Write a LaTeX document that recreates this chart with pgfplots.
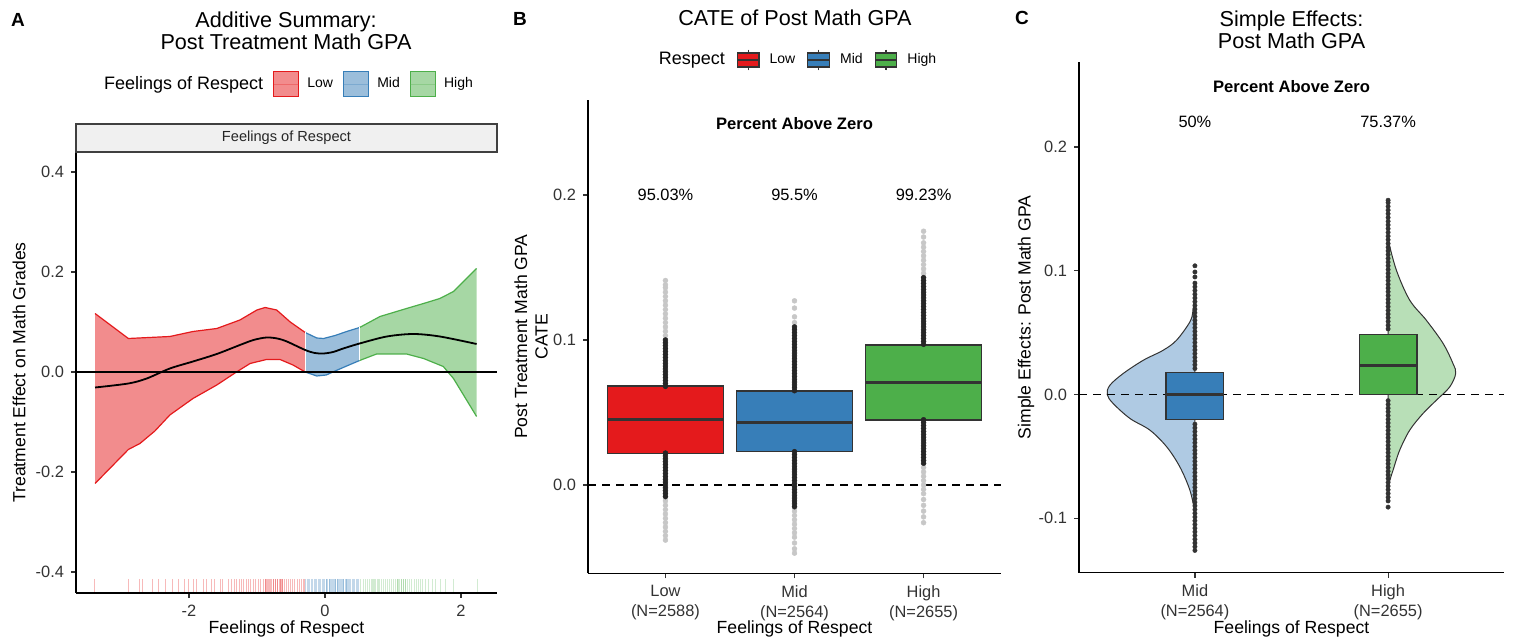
\documentclass[border=0pt]{standalone}
\usepackage{pgfplots}
\pgfplotsset{compat=1.18}
\usepackage{fontspec}
\setmainfont{Liberation Sans}
\definecolor{cRed}{HTML}{E41A1C}
\definecolor{cBlue}{HTML}{377EB8}
\definecolor{cGreen}{HTML}{4DAF4A}
\definecolor{cRedF}{HTML}{F28C8D}
\definecolor{cBlueF}{HTML}{9BBEDB}
\definecolor{cGreenF}{HTML}{A6D7A4}
\definecolor{cBlueV}{HTML}{AFCAE3}
\definecolor{cGreenV}{HTML}{B8DFB7}
\definecolor{dk}{HTML}{333333}
\newcommand{\tickfont}{\fontsize{8.2}{10}\selectfont}
\newcommand{\labfont}{\fontsize{8.8}{10.2}\selectfont}
\newcommand{\titfont}{\fontsize{10.8}{11.2}\selectfont}
\pgfplotsset{
  gg/.style={scale only axis, axis lines*=left,
    axis line style={-, line width=0.6pt, black},
    tick align=outside, major tick length=2.5pt,
    tick style={line width=0.6pt, black!80},
    ticklabel style={font=\tickfont, text=black!80},
    label style={font=\labfont},
    clip=false,
  },
  akey/.style={legend image code/.code={
     \draw[##1, line width=0.6pt] (0pt,-6.25pt) rectangle (12.5pt,6.25pt);
     \draw[##1, draw opacity=0.3, line width=0.5pt] (0pt,0pt) -- (12.5pt,0pt);}},
  bkey/.style={legend image code/.code={
     \draw[##1, line width=0.6pt] (0pt,-3.5pt) rectangle (10.8pt,3.5pt);
     \draw[dk, line width=0.6pt] (5.4pt,3.5pt)--(5.4pt,5.2pt) (5.4pt,-3.5pt)--(5.4pt,-5.2pt) (0pt,0pt)--(10.8pt,0pt);}},
  densept/.style={forget plot, only marks, mark=*, mark size=1.25pt, mark options={draw=black!85, fill=black!85, line width=0.2pt}},
  sparsept/.style={forget plot, only marks, mark=*, mark size=1.25pt, mark options={draw=black!22, fill=black!22, line width=0.2pt}},
  cpt/.style={forget plot, only marks, mark=*, mark size=1.1pt, mark options={draw=dk, fill=dk, line width=0.2pt}},
  boxst/.style={forget plot, draw=dk, line width=0.6pt},
  medst/.style={forget plot, draw=dk, line width=1.5pt},
}
\begin{document}
\begin{tikzpicture}
\path[use as bounding box] (0,0) rectangle (757.5pt,321pt);
% ---------------- Panel A ----------------
\begin{axis}[gg, at={(38pt,24.5pt)}, anchor=south west, width=210.5pt, height=220.5pt,
  xmin=-3.66, xmax=2.53, ymin=-0.442, ymax=0.44,
  xtick={-2,0,2}, xticklabels={-2,0,2},
  ytick={-0.4,-0.2,0,0.2,0.4}, yticklabels={-0.4,-0.2,0.0,0.2,0.4},
  xlabel={Feelings of Respect}, ylabel={Treatment Effect on Math Grades},
  xlabel style={at={(axis description cs:0.5,0)}, anchor=center, yshift=-18pt},
  ylabel style={at={(axis description cs:-0.1354,0.5)}, anchor=center},
  legend columns=-1,
  legend style={at={(0.5,1.154)}, anchor=center, draw=none, fill=none,
     font=\fontsize{7}{8}\selectfont,
     /tikz/every odd column/.append style={column sep=2pt},
     /tikz/every even column/.append style={column sep=3pt}},
]
% bands
\addplot[forget plot, fill=cRedF, draw=none] coordinates {
 (-3.38,0.117) (-2.89,0.067) (-2.28,0.071) (-1.94,0.081) (-1.59,0.087) (-1.25,0.104) (-1.0,0.124) (-0.88,0.129) (-0.71,0.124) (-0.51,0.100) (-0.29,0.079)
 (-0.29,0.0) (-0.47,0.014) (-0.66,0.025) (-0.86,0.025) (-1.10,0.017) (-1.30,0.0) (-1.59,-0.026) (-1.94,-0.053) (-2.28,-0.086) (-2.50,-0.118) (-2.72,-0.143) (-2.89,-0.155) (-3.38,-0.223)} -- cycle;
\addplot[forget plot, cRed, line width=0.6pt] coordinates {
 (-3.38,0.117) (-2.89,0.067) (-2.28,0.071) (-1.94,0.081) (-1.59,0.087) (-1.25,0.104) (-1.0,0.124) (-0.88,0.129) (-0.71,0.124) (-0.51,0.100) (-0.29,0.079)};
\addplot[forget plot, cRed, line width=0.6pt] coordinates {
 (-3.38,-0.223) (-2.89,-0.155) (-2.72,-0.143) (-2.50,-0.118) (-2.28,-0.086) (-1.94,-0.053) (-1.59,-0.026) (-1.30,0.0) (-1.10,0.017) (-0.86,0.025) (-0.66,0.025) (-0.47,0.014) (-0.29,0.0)};
\addplot[forget plot, fill=cBlueF, draw=none] coordinates {
 (-0.29,0.079) (-0.12,0.068) (-0.02,0.067) (0.15,0.073) (0.32,0.081) (0.51,0.089)
 (0.51,0.023) (0.32,0.012) (0.15,0.002) (0.02,-0.006) (-0.12,-0.008) (-0.29,0.0)} -- cycle;
\addplot[forget plot, cBlue, line width=0.6pt] coordinates {
 (-0.29,0.079) (-0.12,0.068) (-0.02,0.067) (0.15,0.073) (0.32,0.081) (0.51,0.089)};
\addplot[forget plot, cBlue, line width=0.6pt] coordinates {
 (-0.29,0.0) (-0.12,-0.008) (0.02,-0.006) (0.15,0.002) (0.32,0.012) (0.51,0.023)};
\addplot[forget plot, fill=cGreenF, draw=none] coordinates {
 (0.51,0.089) (0.81,0.111) (1.2,0.127) (1.45,0.137) (1.69,0.147) (1.89,0.161) (2.23,0.207)
 (2.23,-0.089) (1.89,-0.013) (1.74,0.011) (1.45,0.027) (1.2,0.036) (0.76,0.036) (0.51,0.023)} -- cycle;
\addplot[forget plot, cGreen, line width=0.6pt] coordinates {
 (0.51,0.089) (0.81,0.111) (1.2,0.127) (1.45,0.137) (1.69,0.147) (1.89,0.161) (2.23,0.207)};
\addplot[forget plot, cGreen, line width=0.6pt] coordinates {
 (0.51,0.023) (0.76,0.036) (1.2,0.036) (1.45,0.027) (1.74,0.011) (1.89,-0.013) (2.23,-0.089)};
\addplot[forget plot, white, line width=0.7pt] coordinates {(-0.29,0.0) (-0.29,0.079)};
\addplot[forget plot, white, line width=0.7pt] coordinates {(0.51,0.023) (0.51,0.089)};
% zero line
\addplot[forget plot, black, line width=0.6pt] coordinates {(-3.66,0) (2.53,0)};
% mean line
\addplot[forget plot, black, line width=0.9pt, smooth, tension=0.5] coordinates {
 (-3.38,-0.031) (-2.89,-0.023) (-2.62,-0.013) (-2.28,0.007) (-1.94,0.021) (-1.59,0.036) (-1.25,0.054) (-1.05,0.064) (-0.86,0.069) (-0.70,0.067) (-0.56,0.061) (-0.29,0.044) (-0.15,0.038) (-0.02,0.037) (0.12,0.040) (0.27,0.047) (0.51,0.057) (0.91,0.071) (1.30,0.076) (1.69,0.071) (2.23,0.056)};
% rugs
\addplot[forget plot, only marks, mark=|, mark size=3.25pt, mark options={draw=cRed, draw opacity=0.3, line width=0.5pt}] coordinates {
 (-3.39,-0.427) (-2.89,-0.427) (-2.73,-0.427) (-2.68,-0.427) (-2.53,-0.427) (-2.44,-0.427) (-2.34,-0.427) (-2.24,-0.427) (-2.16,-0.427) (-2.07,-0.427) (-2.01,-0.427) (-1.93,-0.427) (-1.89,-0.427) (-1.79,-0.427) (-1.74,-0.427) (-1.67,-0.427) (-1.62,-0.427) (-1.54,-0.427) (-1.50,-0.427) (-1.42,-0.427) (-1.37,-0.427) (-1.33,-0.427) (-1.30,-0.427) (-1.26,-0.427) (-1.22,-0.427) (-1.19,-0.427) (-1.15,-0.427) (-1.12,-0.427) (-1.09,-0.427) (-1.05,-0.427) (-1.02,-0.427) (-0.98,-0.427) (-0.95,-0.427) (-0.91,-0.427) (-0.88,-0.427) (-0.87,-0.427) (-0.86,-0.427) (-0.84,-0.427) (-0.83,-0.427) (-0.81,-0.427) (-0.80,-0.427) (-0.78,-0.427) (-0.76,-0.427) (-0.75,-0.427) (-0.73,-0.427) (-0.72,-0.427) (-0.70,-0.427) (-0.69,-0.427) (-0.67,-0.427) (-0.66,-0.427) (-0.65,-0.427) (-0.64,-0.427) (-0.63,-0.427) (-0.62,-0.427) (-0.59,-0.427) (-0.56,-0.427) (-0.53,-0.427) (-0.50,-0.427) (-0.47,-0.427) (-0.44,-0.427) (-0.41,-0.427) (-0.38,-0.427) (-0.35,-0.427) (-0.32,-0.427) (-0.30,-0.427)};
\addplot[forget plot, only marks, mark=|, mark size=3.25pt, mark options={draw=cBlue, draw opacity=0.3, line width=0.5pt}] coordinates {
 (-0.28,-0.427) (-0.26,-0.427) (-0.24,-0.427) (-0.22,-0.427) (-0.20,-0.427) (-0.18,-0.427) (-0.16,-0.427) (-0.14,-0.427) (-0.12,-0.427) (-0.10,-0.427) (-0.08,-0.427) (-0.06,-0.427) (-0.04,-0.427) (-0.02,-0.427) (0.00,-0.427) (0.02,-0.427) (0.03,-0.427) (0.04,-0.427) (0.06,-0.427) (0.07,-0.427) (0.08,-0.427) (0.10,-0.427) (0.11,-0.427) (0.12,-0.427) (0.14,-0.427) (0.15,-0.427) (0.16,-0.427) (0.18,-0.427) (0.19,-0.427) (0.20,-0.427) (0.22,-0.427) (0.23,-0.427) (0.24,-0.427) (0.26,-0.427) (0.27,-0.427) (0.28,-0.427) (0.30,-0.427) (0.31,-0.427) (0.32,-0.427) (0.33,-0.427) (0.34,-0.427) (0.36,-0.427) (0.38,-0.427) (0.40,-0.427) (0.42,-0.427) (0.44,-0.427) (0.46,-0.427) (0.48,-0.427) (0.50,-0.427)};
\addplot[forget plot, only marks, mark=|, mark size=3.25pt, mark options={draw=cGreen, draw opacity=0.25, line width=0.5pt}] coordinates {
 (0.53,-0.427) (0.56,-0.427) (0.59,-0.427) (0.62,-0.427) (0.65,-0.427) (0.68,-0.427) (0.70,-0.427) (0.71,-0.427) (0.73,-0.427) (0.74,-0.427) (0.77,-0.427) (0.79,-0.427) (0.80,-0.427) (0.83,-0.427) (0.86,-0.427) (0.89,-0.427) (0.92,-0.427) (0.95,-0.427) (0.98,-0.427) (1.01,-0.427) (1.04,-0.427) (1.06,-0.427) (1.07,-0.427) (1.08,-0.427) (1.10,-0.427) (1.12,-0.427) (1.13,-0.427) (1.15,-0.427) (1.16,-0.427) (1.18,-0.427) (1.19,-0.427) (1.22,-0.427) (1.25,-0.427) (1.28,-0.427) (1.31,-0.427) (1.34,-0.427) (1.37,-0.427) (1.40,-0.427) (1.44,-0.427) (1.48,-0.427) (1.53,-0.427) (1.58,-0.427) (1.63,-0.427) (1.70,-0.427) (1.78,-0.427) (1.89,-0.427) (2.24,-0.427)};
% legend
\addlegendimage{empty legend}
\addlegendentry{\fontsize{9}{10}\selectfont Feelings of Respect}
\addlegendimage{akey, draw=cRed, fill=cRedF}
\addlegendentry{Low}
\addlegendimage{akey, draw=cBlue, fill=cBlueF}
\addlegendentry{Mid}
\addlegendimage{akey, draw=cGreen, fill=cGreenF}
\addlegendentry{High}
% strip
\draw[fill=black!6, draw=black!75, line width=0.6pt] (rel axis cs:0,1) rectangle (rel axis cs:1,1.0635);
\node[font=\fontsize{7.3}{8}\selectfont, text=black!85] at (rel axis cs:0.5,1.0317) {Feelings of Respect};
\end{axis}
% ---------------- Panel B ----------------
\begin{axis}[gg, at={(294pt,34.35pt)}, anchor=south west, width=206.5pt, height=236.65pt,
  xmin=0.4, xmax=3.6, ymin=-0.0609, ymax=0.2655,
  xtick={1,2,3}, xticklabels={{Low\\(N=2588)},{Mid\\(N=2564)},{High\\(N=2655)}},
  xticklabel style={align=center},
  ytick={0,0.1,0.2}, yticklabels={0.0,0.1,0.2},
  xlabel={Feelings of Respect}, ylabel={Post Treatment Math GPA\\CATE},
  xlabel style={at={(axis description cs:0.5,0)}, anchor=center, yshift=-27.6pt},
  ylabel style={align=center, at={(axis description cs:-0.138,0.5)}, anchor=center},
  legend columns=-1,
  legend style={at={(0.5,1.0846)}, anchor=center, draw=none, fill=none,
     font=\fontsize{7}{8}\selectfont,
     /tikz/every odd column/.append style={column sep=3pt},
     /tikz/every even column/.append style={column sep=4pt}},
]
% sparse points
\addplot[sparsept] coordinates {
 (1,0.103) (1,0.106) (1,0.109) (1,0.112) (1,0.115) (1,0.118) (1,0.121) (1,0.124) (1,0.127) (1,0.130) (1,0.133) (1,0.136) (1,0.138) (1,0.141)
 (1,-0.011) (1,-0.014) (1,-0.017) (1,-0.020) (1,-0.023) (1,-0.026) (1,-0.029) (1,-0.032) (1,-0.035) (1,-0.038)
 (2,0.112) (2,0.116) (2,0.122) (2,0.127)
 (2,-0.018) (2,-0.021) (2,-0.024) (2,-0.027) (2,-0.030) (2,-0.033) (2,-0.036) (2,-0.040) (2,-0.044) (2,-0.047)
 (3,0.146) (3,0.149) (3,0.152) (3,0.155) (3,0.158) (3,0.161) (3,0.164) (3,0.167) (3,0.171) (3,0.175)
 (3,0.012) (3,0.009) (3,0.006) (3,0.003) (3,0.000) (3,-0.003) (3,-0.006) (3,-0.010) (3,-0.014) (3,-0.018) (3,-0.022) (3,-0.026)};
% dense points
\addplot[densept] coordinates {
 (1,0.068) (1,0.070) (1,0.072) (1,0.074) (1,0.076) (1,0.078) (1,0.080) (1,0.082) (1,0.084) (1,0.086) (1,0.088) (1,0.090) (1,0.092) (1,0.094) (1,0.096) (1,0.098) (1,0.100)
 (1,0.022) (1,0.020) (1,0.018) (1,0.016) (1,0.014) (1,0.012) (1,0.010) (1,0.008) (1,0.006) (1,0.004) (1,0.002) (1,0.000) (1,-0.002) (1,-0.004) (1,-0.006) (1,-0.008)
 (2,0.065) (2,0.067) (2,0.069) (2,0.071) (2,0.073) (2,0.075) (2,0.077) (2,0.079) (2,0.081) (2,0.083) (2,0.085) (2,0.087) (2,0.089) (2,0.091) (2,0.093) (2,0.095) (2,0.097) (2,0.099) (2,0.101) (2,0.103) (2,0.105) (2,0.107) (2,0.109)
 (2,0.023) (2,0.021) (2,0.019) (2,0.017) (2,0.015) (2,0.013) (2,0.011) (2,0.009) (2,0.007) (2,0.005) (2,0.003) (2,0.001) (2,-0.001) (2,-0.003) (2,-0.005) (2,-0.007) (2,-0.009) (2,-0.011) (2,-0.013) (2,-0.015)
 (3,0.097) (3,0.099) (3,0.101) (3,0.103) (3,0.105) (3,0.107) (3,0.109) (3,0.111) (3,0.113) (3,0.115) (3,0.117) (3,0.119) (3,0.121) (3,0.123) (3,0.125) (3,0.127) (3,0.129) (3,0.131) (3,0.133) (3,0.135) (3,0.137) (3,0.139) (3,0.141) (3,0.143)
 (3,0.045) (3,0.043) (3,0.041) (3,0.039) (3,0.037) (3,0.035) (3,0.033) (3,0.031) (3,0.029) (3,0.027) (3,0.025) (3,0.023) (3,0.021) (3,0.019) (3,0.017) (3,0.015)};
\addplot[forget plot, black, line width=0.7pt, dash pattern=on 4pt off 3pt] coordinates {(0.4,0) (3.6,0)};
% boxes
\addplot[boxst, fill=cRed] coordinates {(0.55,0.0219) (1.45,0.0219) (1.45,0.0683) (0.55,0.0683)} -- cycle;
\addplot[medst] coordinates {(0.55,0.0453) (1.45,0.0453)};
\addplot[boxst, fill=cBlue] coordinates {(1.55,0.0230) (2.45,0.0230) (2.45,0.0648) (1.55,0.0648)} -- cycle;
\addplot[medst] coordinates {(1.55,0.0430) (2.45,0.0430)};
\addplot[boxst, fill=cGreen] coordinates {(2.55,0.0448) (3.45,0.0448) (3.45,0.0966) (2.55,0.0966)} -- cycle;
\addplot[medst] coordinates {(2.55,0.0706) (3.45,0.0706)};
% legend
\addlegendimage{empty legend}
\addlegendentry{\fontsize{9}{10}\selectfont Respect}
\addlegendimage{bkey, draw=dk, fill=cRed}
\addlegendentry{Low}
\addlegendimage{bkey, draw=dk, fill=cBlue}
\addlegendentry{Mid}
\addlegendimage{bkey, draw=dk, fill=cGreen}
\addlegendentry{High}
\node[font=\bfseries\fontsize{8.3}{9}\selectfont] at (axis cs:2,0.249) {Percent Above Zero};
\node[font=\fontsize{8.2}{9}\selectfont] at (axis cs:1,0.2) {95.03\%};
\node[font=\fontsize{8.2}{9}\selectfont] at (axis cs:2,0.2) {95.5\%};
\node[font=\fontsize{8.2}{9}\selectfont] at (axis cs:3,0.2) {99.23\%};
\end{axis}
% ---------------- Panel C ----------------
\begin{axis}[gg, at={(539.5pt,34.65pt)}, anchor=south west, width=212.5pt, height=255.35pt,
  xmin=0.4, xmax=2.6, ymin=-0.144, ymax=0.2687,
  xtick={1,2}, xticklabels={{Mid\\(N=2564)},{High\\(N=2655)}},
  xticklabel style={align=center},
  ytick={-0.1,0,0.1,0.2}, yticklabels={-0.1,0.0,0.1,0.2},
  xlabel={Feelings of Respect}, ylabel={Simple Effects: Post Math GPA},
  xlabel style={at={(axis description cs:0.5,0)}, anchor=center, yshift=-28.2pt},
  ylabel style={at={(axis description cs:-0.1247,0.5)}, anchor=center},
]
\addplot[forget plot, fill=cBlueV, draw=dk, line width=0.5pt, smooth, tension=0.55] coordinates {
 (1,0.085) (0.99,0.068) (0.974,0.0587) (0.905,0.0439) (0.836,0.0358) (0.733,0.0277) (0.629,0.017) (0.56,0.0075) (0.546,0) (0.577,-0.0073) (0.664,-0.0194) (0.767,-0.0288) (0.854,-0.0423) (0.922,-0.0585) (0.974,-0.0773) (1,-0.095)} -- cycle;
\addplot[forget plot, fill=cGreenV, draw=dk, line width=0.5pt, smooth, tension=0.55] coordinates {
 (2,0.125) (2.043,0.1004) (2.112,0.0762) (2.198,0.06) (2.285,0.0412) (2.336,0.025) (2.35,0.017) (2.319,0.0061) (2.25,-0.0046) (2.181,-0.0153) (2.112,-0.0288) (2.06,-0.045) (2.026,-0.061) (2.008,-0.070) (2,-0.078)} -- cycle;
\addplot[forget plot, black, line width=0.7pt, dash pattern=on 4pt off 3pt] coordinates {(0.4,0) (2.6,0)};
\addplot[cpt] coordinates {
 (1,-0.126) (1,-0.123) (1,-0.120) (1,-0.117) (1,-0.114) (1,-0.111) (1,-0.108) (1,-0.105) (1,-0.102) (1,-0.099) (1,-0.096) (1,-0.093) (1,-0.090) (1,-0.087) (1,-0.084) (1,-0.081) (1,-0.078) (1,-0.075) (1,-0.072) (1,-0.069) (1,-0.066) (1,-0.063) (1,-0.060) (1,-0.057) (1,-0.054) (1,-0.051) (1,-0.048) (1,-0.045) (1,-0.042) (1,-0.039) (1,-0.036) (1,-0.033) (1,-0.030) (1,-0.027) (1,-0.024)
 (1,0.021) (1,0.024) (1,0.027) (1,0.030) (1,0.033) (1,0.036) (1,0.039) (1,0.042) (1,0.045) (1,0.048) (1,0.051) (1,0.054) (1,0.057) (1,0.060) (1,0.063) (1,0.066) (1,0.069) (1,0.072) (1,0.075) (1,0.078) (1,0.081) (1,0.084) (1,0.087) (1,0.090) (1,0.095) (1,0.099) (1,0.104)
 (2,-0.091) (2,-0.086) (2,-0.083) (2,-0.080) (2,-0.077) (2,-0.074) (2,-0.071) (2,-0.068) (2,-0.065) (2,-0.062) (2,-0.059) (2,-0.056) (2,-0.053) (2,-0.050) (2,-0.047) (2,-0.044) (2,-0.041) (2,-0.038) (2,-0.035) (2,-0.032) (2,-0.029) (2,-0.026) (2,-0.023) (2,-0.020) (2,-0.017) (2,-0.014) (2,-0.011) (2,-0.008) (2,-0.005)
 (2,0.053) (2,0.056) (2,0.059) (2,0.062) (2,0.065) (2,0.068) (2,0.071) (2,0.074) (2,0.077) (2,0.080) (2,0.083) (2,0.086) (2,0.089) (2,0.092) (2,0.095) (2,0.098) (2,0.101) (2,0.104) (2,0.107) (2,0.110) (2,0.113) (2,0.116) (2,0.119) (2,0.122) (2,0.125) (2,0.128) (2,0.131) (2,0.134) (2,0.137) (2,0.140) (2,0.143) (2,0.146) (2,0.149) (2,0.152) (2,0.155) (2,0.157)};
\addplot[boxst, fill=cBlue] coordinates {(0.85,-0.0202) (1.15,-0.0202) (1.15,0.0175) (0.85,0.0175)} -- cycle;
\addplot[medst] coordinates {(0.85,0.0) (1.15,0.0)};
\addplot[boxst, fill=cGreen] coordinates {(1.85,0.0) (2.15,0.0) (2.15,0.0487) (1.85,0.0487)} -- cycle;
\addplot[medst] coordinates {(1.85,0.0231) (2.15,0.0231)};
\node[font=\bfseries\fontsize{8.3}{9}\selectfont] at (axis cs:1.5,0.249) {Percent Above Zero};
\node[font=\fontsize{8.2}{9}\selectfont] at (axis cs:1,0.22) {50\%};
\node[font=\fontsize{8.2}{9}\selectfont] at (axis cs:2,0.22) {75.37\%};
\end{axis}
% titles
\node[font=\titfont, align=center] at (143pt,305.5pt) {Additive Summary:\\Post Treatment Math GPA};
\node[font=\titfont] at (397.5pt,312pt) {CATE of Post Math GPA};
\node[font=\titfont, align=center] at (645.75pt,306pt) {Simple Effects:\\Post Math GPA};
\node[font=\bfseries\fontsize{9.5}{11}\selectfont] at (9pt,311pt) {A};
\node[font=\bfseries\fontsize{9.5}{11}\selectfont] at (260pt,311.5pt) {B};
\node[font=\bfseries\fontsize{9.5}{11}\selectfont] at (511pt,312pt) {C};
\end{tikzpicture}
\end{document}
